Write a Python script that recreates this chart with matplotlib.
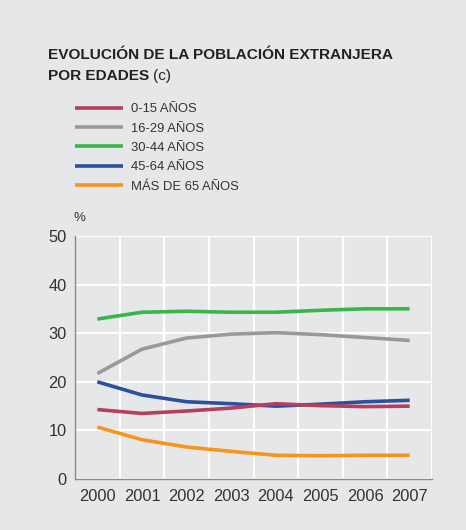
import numpy as np
import matplotlib.pyplot as plt

plt.rcParams['font.family'] = ['Liberation Sans', 'DejaVu Sans']

years = ['2000', '2001', '2002', '2003', '2004', '2005', '2006', '2007']
labels = ['0-15 AÑOS', '16-29 AÑOS', '30-44 AÑOS', '45-64 AÑOS', 'MÁS DE 65 AÑOS']
age_0_15 = [14.3, 13.5, 14.0, 14.6, 15.5, 15.1, 14.9, 15.0]
age_16_29 = [21.7, 26.7, 29.0, 29.8, 30.1, 29.7, 29.1, 28.5]
age_30_44 = [32.9, 34.3, 34.5, 34.3, 34.3, 34.7, 35.0, 35.0]
age_45_64 = [20.0, 17.3, 15.9, 15.5, 15.0, 15.4, 15.9, 16.2]
age_65 = [10.7, 8.1, 6.6, 5.7, 4.9, 4.8, 4.9, 4.9]
colors = ['#b5405e', '#999999', '#3bb54a', '#2e4f9e', '#f7941d']

BG = '#e6e7e8'

fig = plt.figure(figsize=(4.66, 5.30), dpi=100, facecolor=BG)
ax = fig.add_axes([0.161, 0.096, 0.766, 0.459], facecolor=BG)

x = np.arange(len(years))
series = [age_0_15, age_16_29, age_30_44, age_45_64, age_65]
# draw order: red stays above blue where they cross, like the original
order = [2, 1, 3, 0, 4]
handles = {}
for i in order:
    ln, = ax.plot(x, series[i], color=colors[i], lw=2.6, label=labels[i],
                  solid_capstyle='butt', zorder=3)
    handles[i] = ln

ax.set_xlim(-0.5, 7.5)
ax.set_ylim(0, 50)
ax.set_xticks(x)
ax.set_xticklabels(years)
ax.set_yticks(np.arange(0, 51, 10))
ax.set_xticks(np.arange(0.5, 7.6, 1), minor=True)
ax.grid(which='minor', axis='x', color='white', lw=1.5, zorder=1)
ax.grid(which='major', axis='y', color='white', lw=1.5, zorder=1)
ax.tick_params(which='both', length=0, labelsize=11.8, labelcolor='#333333')
ax.tick_params(axis='x', pad=7)
ax.tick_params(axis='y', pad=6)
for s in ['top', 'right']:
    ax.spines[s].set_visible(False)
for s in ['left', 'bottom']:
    ax.spines[s].set_color('#8a8a8a')
    ax.spines[s].set_linewidth(1.0)
    ax.spines[s].set_zorder(2)

fig.text(73 / 466, 1 - 218 / 530, '%', fontsize=9.5, color='#333333',
         ha='left', va='center')

fig.text(48 / 466, 1 - 55 / 530, 'EVOLUCIÓN DE LA POBLACIÓN EXTRANJERA',
         fontsize=11.1, fontweight='bold', color='#222222', ha='left', va='center')
t = fig.text(48 / 466, 1 - 76 / 530, 'POR EDADES', fontsize=11.1,
             fontweight='bold', color='#222222', ha='left', va='center')
fig.canvas.draw()
bb = t.get_window_extent()
fig.text((bb.x1 + 4) / fig.bbox.width, 1 - 76 / 530, '(c)', fontsize=11.1,
         color='#222222', ha='left', va='center')

leg = fig.legend([handles[i] for i in range(5)], labels, loc='upper left',
                 bbox_to_anchor=(75 / 466, 1 - 103 / 530), frameon=False,
                 fontsize=9.4, handlelength=3.7, handletextpad=0.6,
                 labelspacing=0.56, borderaxespad=0, borderpad=0)
for txt in leg.get_texts():
    txt.set_color('#333333')

fig.savefig('out.png', dpi=100, facecolor=BG)
